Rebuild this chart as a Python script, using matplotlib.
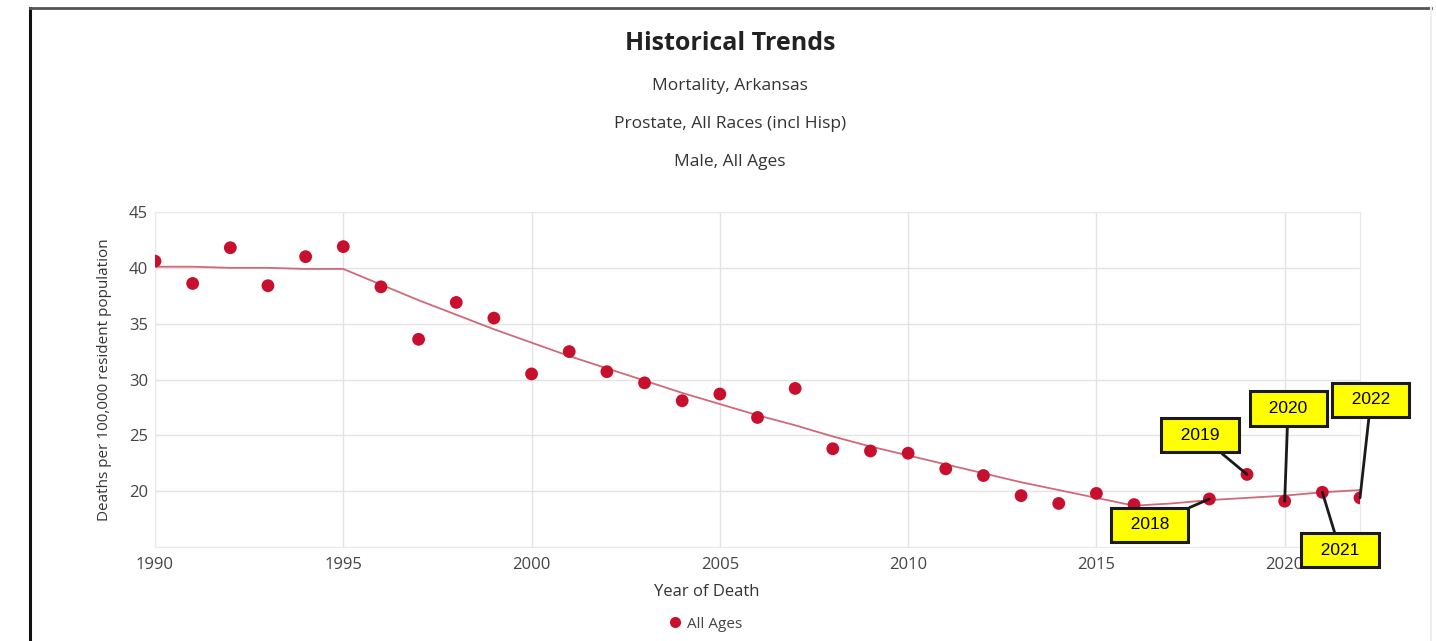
import matplotlib
matplotlib.use("Agg")
import matplotlib.pyplot as plt
from matplotlib.lines import Line2D

# Observed age-adjusted prostate cancer death rates, Arkansas, males (2017 suppressed)
years = [1990, 1991, 1992, 1993, 1994, 1995, 1996, 1997, 1998, 1999,
         2000, 2001, 2002, 2003, 2004, 2005, 2006, 2007, 2008, 2009,
         2010, 2011, 2012, 2013, 2014, 2015, 2016, 2018, 2019, 2020,
         2021, 2022]
rates = [40.6, 38.6, 41.8, 38.4, 41.0, 41.9, 38.3, 33.6, 36.9, 35.5,
         30.5, 32.5, 30.7, 29.7, 28.1, 28.7, 26.6, 29.2, 23.8, 23.6,
         23.4, 22.0, 21.4, 19.6, 18.9, 19.8, 18.8, 19.3, 21.5, 19.1,
         19.9, 19.4]

# Fitted trend (joinpoint) values
trend_years = list(range(1990, 2023))
trend_rates = [40.1, 40.1, 40.0, 40.0, 39.9, 39.9, 38.5, 37.1, 35.8, 34.5,
               33.3, 32.1, 31.0, 29.9, 28.8, 27.8, 26.8, 25.9, 24.9, 24.0,
               23.2, 22.4, 21.6, 20.8, 20.1, 19.4, 18.7, 18.9, 19.2, 19.4,
               19.6, 19.9, 20.1]

# Callout labels: year, label position (x, y)
callout_years = [2018, 2019, 2020, 2021, 2022]
callout_pos = [(2016.42, 17.0), (2017.75, 25.0), (2020.09, 27.4),
               (2021.47, 14.7), (2022.29, 28.2)]

x_ticks = [1990, 1995, 2000, 2005, 2010, 2015, 2020]
y_ticks = [20, 25, 30, 35, 40, 45]

title = "Historical Trends"
subtitles = ["Mortality, Arkansas", "Prostate, All Races (incl Hisp)", "Male, All Ages"]

W, H = 1436, 641
fig = plt.figure(figsize=(W / 100, H / 100), dpi=100)
fig.patch.set_facecolor("white")

font_main = ["Open Sans", "DejaVu Sans"]
font_box = ["Liberation Sans", "DejaVu Sans"]

ax = fig.add_axes([155 / W, 1 - 547 / H, (1360 - 155) / W, (547 - 212) / H])
ax.set_xlim(1990, 2022)
ax.set_ylim(15, 45)
ax.set_xticks(x_ticks)
ax.set_yticks(y_ticks)
ax.grid(True, color="#e3e3e3", lw=1)
ax.set_axisbelow(True)
for s in ax.spines.values():
    s.set_color("#e8e8e8")
ax.tick_params(length=0, labelsize=12, labelcolor="#444444")
ax.tick_params(axis="x", pad=7)
ax.tick_params(axis="y", pad=5)
for lbl in ax.get_xticklabels() + ax.get_yticklabels():
    lbl.set_family(font_main)
ax.set_ylabel("Deaths per 100,000 resident population", fontsize=11,
              color="#333333", family=font_main, labelpad=12)

ax.plot(trend_years, trend_rates, color="#cf6a78", lw=1.3, zorder=2)
ax.scatter(years, rates, s=85, color="#c8102e", edgecolor="none", zorder=3)

for yr, (tx, ty) in zip(callout_years, callout_pos):
    val = rates[years.index(yr)]
    ax.annotate("  " + str(yr) + "  ", xy=(yr, val), xytext=(tx, ty),
                textcoords="data", ha="center", va="center",
                fontsize=12.5, family=font_box, color="black",
                annotation_clip=False, zorder=5,
                bbox=dict(boxstyle="square,pad=0.55", fc="#ffff00",
                          ec="#1a1a1a", lw=2.2),
                arrowprops=dict(arrowstyle="-", color="#1a1a1a", lw=2.0,
                                shrinkA=0, shrinkB=0))

# Header text
fig.text(730 / W, 1 - 43 / H, title, ha="center", va="center",
         fontsize=18, fontweight="bold", color="#222222", family=font_main)
for yy, s in zip([86, 124, 162], subtitles):
    fig.text(730 / W, 1 - yy / H, s, ha="center", va="center",
             fontsize=12.5, color="#333333", family=font_main)

fig.text(707 / W, 1 - 592 / H, "Year of Death", ha="center", va="center",
         fontsize=12, color="#333333", family=font_main)

handle = Line2D([], [], marker="o", ls="none", color="#c8102e",
                markersize=8, markeredgewidth=0)
leg = fig.legend([handle], ["All Ages"], loc="center",
                 bbox_to_anchor=(705 / W, 1 - 624 / H), frameon=False,
                 prop={"family": font_main, "size": 11}, handletextpad=0.3,
                 handlelength=1.0)
for t in leg.get_texts():
    t.set_color("#444444")

# Frame around the chart
fig.add_artist(Line2D([30 / W, 30 / W], [0, 1 - 8 / H], color="#111111", lw=2.2,
                      transform=fig.transFigure))
fig.add_artist(Line2D([30 / W, 1431 / W], [1 - 8 / H, 1 - 8 / H], color="#555555",
                      lw=2.0, transform=fig.transFigure))
fig.add_artist(Line2D([1431 / W, 1431 / W], [0, 1 - 8 / H], color="#eeeeee", lw=1.5,
                      transform=fig.transFigure))

fig.savefig("out.png", dpi=100, facecolor="white")
